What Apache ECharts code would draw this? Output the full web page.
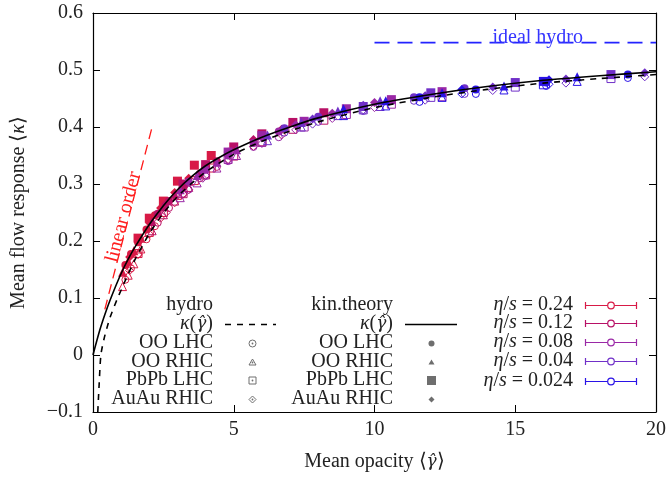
<!DOCTYPE html>
<html><head><meta charset="utf-8">
<script src="https://cdn.jsdelivr.net/npm/echarts@6/dist/echarts.min.js"></script>
<style>html,body{margin:0;padding:0;background:#fff}#c{width:669px;height:477px}</style>
</head><body><div id="c"></div>
<script>
// ---------- data ----------
const etaLabels = ['0.24', '0.12', '0.08', '0.04', '0.024'];
const systemNames = ['OO LHC', 'OO RHIC', 'PbPb LHC', 'AuAu RHIC'];
const xTicks = [0, 5, 10, 15, 20];
const yTicks = [-0.1, 0, 0.1, 0.2, 0.3, 0.4, 0.5, 0.6];

// [opacity, flow response, system index]
const kin024 = [[4.2,0.350,2],[3.6,0.333,2],[3.0,0.305,2],[2.5,0.270,2],[2.0,0.240,2],[1.6,0.205,2],
  [3.4,0.310,3],[2.9,0.285,3],[2.4,0.258,3],[2.0,0.232,3],[1.6,0.200,3],[1.3,0.172,3],
  [2.2,0.245,0],[1.9,0.220,0],[1.6,0.198,0],[1.35,0.177,0],[1.15,0.158,0],
  [1.7,0.205,1],[1.45,0.183,1],[1.25,0.165,1],[1.05,0.145,1]];
const hydro024 = [[4.2,0.328,2],[3.6,0.306,2],[3.0,0.280,2],[2.5,0.250,2],[2.0,0.215,2],[1.6,0.178,2],
  [3.4,0.290,3],[2.9,0.267,3],[2.4,0.240,3],[2.0,0.212,3],[1.6,0.176,3],[1.3,0.148,3],
  [2.2,0.226,0],[1.9,0.203,0],[1.6,0.177,0],[1.35,0.152,0],[1.15,0.132,0],
  [1.7,0.186,1],[1.45,0.160,1],[1.25,0.140,1],[1.05,0.120,1]];
const kin012 = [[8.2,0.425,2],[7.1,0.408,2],[6.0,0.388,2],[5.0,0.365,2],[4.0,0.334,2],[3.2,0.300,2],
  [6.7,0.396,3],[5.7,0.378,3],[4.8,0.356,3],[4.0,0.328,3],[3.2,0.294,3],[2.6,0.265,3],
  [4.4,0.340,0],[3.8,0.318,0],[3.2,0.295,0],[2.7,0.270,0],[2.3,0.248,0],
  [3.4,0.305,1],[2.9,0.282,1],[2.5,0.260,1],[2.1,0.234,1]];
const hydro012 = [[8.2,0.412,2],[7.1,0.396,2],[6.0,0.374,2],[5.0,0.349,2],[4.0,0.316,2],[3.2,0.283,2],
  [6.7,0.386,3],[5.7,0.366,3],[4.8,0.343,3],[4.0,0.315,3],[3.2,0.282,3],[2.6,0.250,3],
  [4.4,0.330,0],[3.8,0.310,0],[3.2,0.283,0],[2.7,0.258,0],[2.3,0.232,0],
  [3.4,0.294,1],[2.9,0.270,1],[2.5,0.246,1],[2.1,0.218,1]];
const kin008 = [[12.4,0.462,2],[10.6,0.448,2],[9.0,0.432,2],[7.5,0.410,2],[6.0,0.385,2],[4.8,0.356,2],
  [10.0,0.443,3],[8.5,0.424,3],[7.2,0.404,3],[6.0,0.382,3],[4.8,0.352,3],[3.9,0.322,3],
  [6.6,0.392,0],[5.7,0.372,0],[4.8,0.350,0],[4.0,0.325,0],[3.4,0.304,0],
  [5.1,0.360,1],[4.4,0.338,1],[3.7,0.315,1],[3.1,0.290,1]];
const hydro008 = [[12.4,0.453,2],[10.6,0.440,2],[9.0,0.422,2],[7.5,0.400,2],[6.0,0.373,2],[4.8,0.343,2],
  [10.0,0.434,3],[8.5,0.415,3],[7.2,0.395,3],[6.0,0.371,3],[4.8,0.342,3],[3.9,0.310,3],
  [6.6,0.382,0],[5.7,0.365,0],[4.8,0.340,0],[4.0,0.314,0],[3.4,0.290,0],
  [5.1,0.350,1],[4.4,0.328,1],[3.7,0.302,1],[3.1,0.276,1]];
const kin004 = [[18.4,0.492,2],[15.0,0.478,2],[12.0,0.460,2],[9.6,0.436,2],
  [19.6,0.495,3],[16.8,0.484,3],[14.2,0.470,3],[11.8,0.455,3],[9.6,0.438,3],[7.8,0.414,3],
  [13.2,0.468,0],[11.4,0.452,0],[9.6,0.435,0],[8.0,0.418,0],[6.8,0.398,0],
  [10.2,0.446,1],[8.7,0.428,1],[7.4,0.408,1],[6.2,0.386,1]];
const hydro004 = [[18.4,0.485,2],[15.0,0.470,2],[12.0,0.452,2],[9.6,0.430,2],
  [19.6,0.488,3],[16.8,0.477,3],[14.2,0.464,3],[11.8,0.447,3],[9.6,0.430,3],[7.8,0.405,3],
  [13.2,0.458,0],[11.4,0.446,0],[9.6,0.428,0],[8.0,0.409,0],[6.8,0.390,0],
  [10.2,0.436,1],[8.7,0.420,1],[7.4,0.400,1],[6.2,0.376,1]];
const kin0024 = [[16.0,0.480,2],
  [16.2,0.483,3],[13.1,0.466,3],
  [19.0,0.492,0],[16.1,0.478,0],[13.6,0.466,0],[11.6,0.452,0],
  [17.2,0.488,1],[14.6,0.472,1],[12.4,0.460,1],[10.4,0.446,1],[8.9,0.432,1]];
const hydro0024 = [[16.0,0.474,2],
  [16.2,0.475,3],[13.1,0.458,3],
  [19.0,0.486,0],[16.1,0.472,0],[13.6,0.458,0],[11.6,0.444,0],
  [17.2,0.480,1],[14.6,0.465,1],[12.4,0.452,1],[10.4,0.437,1],[8.9,0.420,1]];

// curves [opacity, kappa]
const kinCurve = [[0,0],[0.25,0.045],[0.5,0.082],[0.75,0.114],[1,0.143],[1.25,0.168],[1.5,0.19],[2,0.229],
  [2.5,0.262],[3,0.290],[3.5,0.313],[4,0.332],[4.5,0.347],[5,0.360],[6,0.382],[7,0.4],[8,0.416],[10,0.44],
  [12,0.457],[14,0.471],[16,0.482],[18,0.49],[20,0.497]];
const hydroCurve = [[0.17,-0.1],[0.22,-0.05],[0.28,0],[0.4,0.03],[0.6,0.065],[0.85,0.097],[1,0.114],
  [1.25,0.142],[1.5,0.168],[2,0.213],[2.5,0.249],[3,0.278],[3.5,0.301],[4,0.321],[5,0.352],[6,0.375],
  [7,0.393],[8,0.409],[10,0.434],[12,0.452],[14,0.466],[16,0.477],[18,0.485],[20,0.492]];
const linearOrder = [[0.42,0.08],[2.1,0.4]];
const idealHydro = [[10,0.548],[20,0.548]];
const linearLabelAt = [1.26, 0.24];
const idealLabelAt = [15.8, 0.548];

// ---------- styling ----------
const etaColors = ['#d81a46', '#b81066', '#9a28a6', '#7030c8', '#2a12e6'];
const SYM = ['circle', 'triangle', 'rect', 'diamond'];
const SYMSIZE = [8, 9, 9, 9];
const FONT = 'Liberation Serif';
const FS = 20;
const FNT = FS + 'px "' + FONT + '"';

const kinSets = [kin024, kin012, kin008, kin004, kin0024];
const hydroSets = [hydro024, hydro012, hydro008, hydro004, hydro0024];

const chart = echarts.init(document.getElementById('c'));

const series = [];
hydroSets.forEach((d, i) => series.push({
  type: 'scatter', data: d, z: 2,
  symbol: v => SYM[v[2]], symbolSize: v => SYMSIZE[v[2]] - 1,
  itemStyle: { color: 'rgba(255,255,255,0)', borderColor: etaColors[i], borderWidth: 1, opacity: 1 },
  emphasis: { disabled: true }, silent: true
}));
kinSets.forEach((d, i) => series.push({
  type: 'scatter', data: d, z: 4,
  symbol: v => SYM[v[2]], symbolSize: v => SYMSIZE[v[2]],
  itemStyle: { color: etaColors[i], opacity: 1 },
  emphasis: { disabled: true }, silent: true
}));
series.push({ type: 'line', data: hydroCurve, showSymbol: false, smooth: 0.25, z: 6,
  lineStyle: { color: '#000', width: 1.6, type: [6, 6] }, silent: true });
series.push({ type: 'line', data: kinCurve, showSymbol: false, smooth: 0.25, z: 6,
  lineStyle: { color: '#000', width: 1.6 }, silent: true });
series.push({ type: 'line', data: linearOrder, showSymbol: false, z: 6,
  lineStyle: { color: '#ff1a1a', width: 1.3, type: [10, 6] }, silent: true });
series.push({ type: 'line', data: idealHydro, showSymbol: false, z: 6,
  lineStyle: { color: '#2323ff', width: 1.6, type: [15, 8] }, silent: true });

const tickStyle = { inside: true, length: 7, lineStyle: { color: '#000', width: 1 } };
const lineStyleAx = { show: true, onZero: false, lineStyle: { color: '#000', width: 1.2 } };
const yFmt = v => { const r = Math.round(v * 10) / 10; return r === 0 ? '0' : String(r).replace('-', '\u2212'); };
const it = { fontStyle: 'italic', fontFamily: FONT, fontSize: FS, fill: '#222', color: '#222' };
const hat = { fontStyle: 'italic', fontFamily: 'DejaVu Serif', fontSize: FS - 3, fill: '#222', color: '#222' };
const up = { fontFamily: FONT, fontSize: FS, fill: '#222', color: '#222' };

const option = {
  animation: false,
  grid: { left: 93, right: 10, top: 13, bottom: 64 },
  xAxis: [
    { type: 'value', min: xTicks[0], max: xTicks[xTicks.length - 1], interval: 5, position: 'bottom',
      axisLine: lineStyleAx, axisTick: tickStyle, splitLine: { show: false },
      axisLabel: { color: '#222', fontFamily: FONT, fontSize: FS, margin: 8 },
      name: '{u|Mean opacity \u27e8}{h|\u03b3\u0302}{u|\u27e9}', nameLocation: 'middle', nameGap: 40,
      nameTextStyle: { color: '#222', fontFamily: FONT, fontSize: FS, rich: { u: up, h: hat } } },
    { type: 'value', min: xTicks[0], max: xTicks[xTicks.length - 1], interval: 5, position: 'top',
      axisLine: lineStyleAx, axisTick: tickStyle, splitLine: { show: false }, axisLabel: { show: false } }
  ],
  yAxis: [
    { type: 'value', min: yTicks[0], max: yTicks[yTicks.length - 1], interval: 0.1, position: 'left',
      axisLine: lineStyleAx, axisTick: tickStyle, splitLine: { show: false },
      axisLabel: { color: '#222', fontFamily: FONT, fontSize: FS, margin: 10, formatter: yFmt },
      name: '{u|Mean flow response \u27e8}{i|\u03ba}{u|\u27e9}', nameLocation: 'middle', nameGap: 64, nameRotate: 90,
      nameTextStyle: { color: '#222', fontFamily: FONT, fontSize: FS, rich: { u: up, i: it } } },
    { type: 'value', min: yTicks[0], max: yTicks[yTicks.length - 1], interval: 0.1, position: 'right',
      axisLine: lineStyleAx, axisTick: tickStyle, splitLine: { show: false }, axisLabel: { show: false } }
  ],
  series: series
};
chart.setOption(option);

// ---------- custom legend & annotations ----------
const txt = (x, y, text) => ({
  type: 'text', x: x, y: y, z: 100,
  style: { text: text, align: 'right', verticalAlign: 'middle', fill: '#222', font: FNT }
});
const richTxt = (x, y, text) => ({
  type: 'text', x: x, y: y, z: 100,
  style: { text: text, align: 'right', verticalAlign: 'middle', fill: '#222', font: FNT, rich: { i: it, h: hat, u: up } }
});
const g = [];
const grey = '#6e6e6e';
const rows = [305, 324, 343, 362, 380, 399];
const kappaLbl = '{i|\u03ba}{u|(}{h|\u03b3\u0302}{u|)}';
g.push(txt(213, rows[0], 'hydro'));
g.push(richTxt(213, rows[1], kappaLbl));
g.push({ type: 'line', z: 100, shape: { x1: 225, y1: rows[1] + 0.5, x2: 276, y2: rows[1] + 0.5 }, style: { stroke: '#000', lineWidth: 1.6, lineDash: [6, 6] } });
g.push(txt(393, rows[0], 'kin.theory'));
g.push(richTxt(393, rows[1], kappaLbl));
g.push({ type: 'line', z: 100, shape: { x1: 405, y1: rows[1] + 0.5, x2: 457, y2: rows[1] + 0.5 }, style: { stroke: '#000', lineWidth: 1.6 } });
const symShape = (k, cx, cy, s, filled) => {
  const st = filled ? { fill: grey } : { fill: 'none', stroke: grey, lineWidth: 1 };
  if (k === 0) return { type: 'circle', z: 100, shape: { cx: cx, cy: cy, r: s / 2 }, style: st };
  if (k === 1) return { type: 'polygon', z: 100, shape: { points: [[cx, cy - s / 2], [cx + s / 2, cy + s / 2 - 1], [cx - s / 2, cy + s / 2 - 1]] }, style: st };
  if (k === 2) return { type: 'rect', z: 100, shape: { x: cx - s / 2, y: cy - s / 2, width: s, height: s }, style: st };
  return { type: 'polygon', z: 100, shape: { points: [[cx, cy - s / 2], [cx + s / 2, cy], [cx, cy + s / 2], [cx - s / 2, cy]] }, style: st };
};
systemNames.forEach((n, k) => {
  const y = rows[k + 2];
  g.push(txt(213, y, n));
  g.push(symShape(k, 252.5, y + 0.5, 7, false));
  g.push({ type: 'circle', z: 100, shape: { cx: 252.5, cy: y + 0.5, r: 0.9 }, style: { fill: grey } });
  g.push(txt(393, y, n));
  g.push(symShape(k, 431.5, y + 0.5, k === 2 ? 9 : 6, true));
});
const erows = [305, 323, 342, 361, 381];
etaLabels.forEach((e, i) => {
  const y = erows[i] + 0.5, c = etaColors[i];
  g.push(richTxt(573, erows[i], '{i|\u03b7}{u|/}{i|s}{u| = ' + e + '}'));
  g.push({ type: 'line', z: 100, shape: { x1: 585, y1: y, x2: 637, y2: y }, style: { stroke: c, lineWidth: 1.2 } });
  g.push({ type: 'line', z: 100, shape: { x1: 585.5, y1: y - 3.5, x2: 585.5, y2: y + 3.5 }, style: { stroke: c, lineWidth: 1.2 } });
  g.push({ type: 'line', z: 100, shape: { x1: 636.5, y1: y - 3.5, x2: 636.5, y2: y + 3.5 }, style: { stroke: c, lineWidth: 1.2 } });
  g.push({ type: 'circle', z: 101, shape: { cx: 611, cy: y, r: 3.3 }, style: { fill: '#fff', stroke: c, lineWidth: 1.2 } });
});
const p0 = chart.convertToPixel({ gridIndex: 0 }, linearOrder[0]);
const p1 = chart.convertToPixel({ gridIndex: 0 }, linearOrder[1]);
const ang = Math.atan2(p0[1] - p1[1], p1[0] - p0[0]);
const pl = chart.convertToPixel({ gridIndex: 0 }, linearLabelAt);
g.push({ type: 'text', x: pl[0], y: pl[1], rotation: ang, z: 100,
  style: { text: 'linear order', align: 'center', verticalAlign: 'bottom', y: 5, fill: '#ff2020', font: FNT } });
const pi = chart.convertToPixel({ gridIndex: 0 }, idealLabelAt);
g.push({ type: 'text', x: pi[0], y: pi[1], z: 100,
  style: { text: 'ideal hydro', align: 'center', verticalAlign: 'bottom', y: 5, fill: '#3434ff', font: FNT } });
chart.setOption({ graphic: { elements: g } });
</script></body></html>
